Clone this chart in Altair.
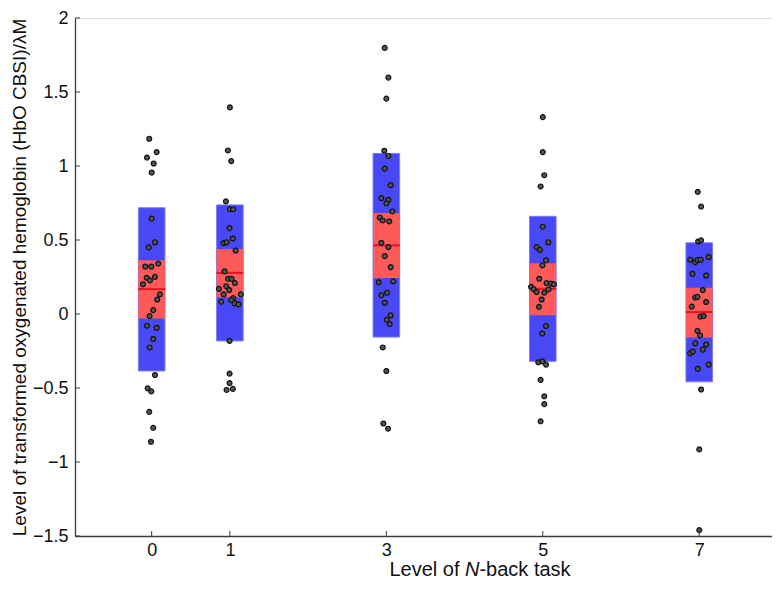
import altair as alt
import pandas as pd

# ---- data ----
levels = [0, 1, 3, 5, 7]
blue_top = [0.718, 0.737, 1.085, 0.660, 0.481]
red_top = [0.364, 0.439, 0.682, 0.343, 0.177]
means = [0.168, 0.278, 0.464, 0.170, 0.013]
red_bottom = [-0.031, 0.113, 0.243, -0.009, -0.158]
blue_bottom = [-0.385, -0.182, -0.156, -0.320, -0.458]

vals_0 = [1.184, 1.094, 1.057, 1.017, 0.956, 0.645, 0.485, 0.450, 0.321, 0.321,
          0.341, 0.245, 0.251, 0.227, 0.201, 0.133, 0.098, 0.026, -0.014, -0.079,
          -0.093, -0.169, -0.226, -0.412, -0.502, -0.523, -0.661, -0.769, -0.863]
jit_0 = [-0.031, 0.064, -0.060, 0.026, 0.0, 0.0, 0.042, -0.038, -0.082, -0.005,
         0.084, -0.064, 0.042, -0.022, -0.111, 0.106, 0.071, 0.020, -0.026, -0.060,
         0.064, 0.020, -0.026, 0.042, -0.051, -0.005, -0.031, 0.020, -0.009]

vals_1 = [1.396, 1.105, 1.033, 0.761, 0.708, 0.708, 0.580, 0.510, 0.479, 0.485,
          0.429, 0.288, 0.238, 0.238, 0.209, 0.188, 0.170, 0.162, 0.133, 0.133,
          0.107, 0.094, 0.083, 0.072, 0.065, -0.182, -0.403, -0.467, -0.513, -0.506]
jit_1 = [0.0, -0.026, 0.017, -0.051, 0.0, 0.042, -0.004, 0.038, -0.080, -0.042,
         0.073, -0.068, -0.022, 0.022, 0.064, -0.047, -0.140, -0.009, -0.080, 0.140,
         0.042, 0.017, -0.111, 0.060, 0.111, -0.004, -0.004, -0.004, -0.042, 0.038]

vals_3 = [1.798, 1.597, 1.455, 1.103, 1.068, 0.982, 0.871, 0.783, 0.772, 0.748,
          0.693, 0.652, 0.632, 0.626, 0.481, 0.452, 0.391, 0.317, 0.214, 0.221,
          0.144, 0.127, 0.076, -0.009, -0.040, -0.068, -0.226, -0.385, -0.740, -0.775]
jit_3 = [-0.020, 0.026, 0.0, -0.026, 0.026, -0.020, 0.056, -0.064, 0.026, 0.0,
         0.077, -0.084, -0.046, 0.038, -0.064, 0.026, -0.020, 0.056, -0.097, 0.089,
         0.009, -0.064, -0.020, 0.056, 0.005, 0.043, -0.046, 0.0, -0.038, 0.022]

vals_5 = [1.330, 1.094, 0.938, 0.862, 0.590, 0.485, 0.452, 0.433, 0.363, 0.328,
          0.238, 0.209, 0.205, 0.201, 0.183, 0.168, 0.166, 0.148, 0.144, 0.098,
          0.048, -0.081, -0.132, -0.326, -0.320, -0.342, -0.445, -0.556, -0.609, -0.725]
jit_5 = [0.0, 0.0, 0.019, -0.028, 0.0, 0.070, -0.079, -0.036, 0.041, -0.006,
         -0.045, 0.048, 0.105, 0.143, -0.150, -0.117, 0.074, -0.079, 0.019, -0.015,
         -0.048, 0.041, -0.006, -0.057, -0.006, 0.041, -0.028, 0.019, 0.019, -0.028]

vals_7 = [0.825, 0.726, 0.490, 0.498, 0.367, 0.350, 0.365, 0.367, 0.385, 0.271,
          0.260, 0.162, 0.111, 0.116, 0.081, 0.050, -0.018, -0.014, -0.114, -0.145,
          -0.198, -0.206, -0.241, -0.265, -0.254, -0.370, -0.342, -0.510, -0.915, -1.460]
jit_7 = [-0.019, 0.024, -0.014, 0.024, -0.116, -0.052, -0.023, 0.019, 0.121, -0.087,
         0.088, 0.045, -0.052, -0.023, 0.088, -0.096, 0.015, 0.057, -0.023, 0.011,
         -0.052, 0.088, 0.045, -0.116, -0.083, -0.019, 0.121, 0.024, 0.0, 0.0]

x_ticks = [0, 1, 3, 5, 7]
y_ticks = [-1.5, -1, -0.5, 0, 0.5, 1, 1.5, 2]

y_title = "Level of transformed oxygenated hemoglobin (HbO CBSI)/λM"
x_title_parts = ["Level of", "N", "-back task"]

# ---- tables ----
half_w = 0.17
boxes = pd.DataFrame({
    "level": levels,
    "x1": [l - half_w for l in levels],
    "x2": [l + half_w for l in levels],
    "blue_top": blue_top, "red_top": red_top, "mean": means,
    "red_bottom": red_bottom, "blue_bottom": blue_bottom,
})

groups = [(0, vals_0, jit_0), (1, vals_1, jit_1), (3, vals_3, jit_3),
          (5, vals_5, jit_5), (7, vals_7, jit_7)]
rows = []
for lvl, vals, jit in groups:
    for v, j in zip(vals, jit):
        rows.append({"level": lvl, "xj": lvl + j, "value": v})
points = pd.DataFrame(rows)

W, H = 697, 518
xs = alt.Scale(domain=[-0.98, 7.93], nice=False, zero=False)
ys = alt.Scale(domain=[-1.5, 2], nice=False, zero=False)
FONT = "Liberation Sans"
AX = "#3c3c3c"

x_axis = alt.Axis(values=x_ticks, format="d", title=None, grid=False, ticks=False,
                  domainColor=AX, domainWidth=1.3, labelFontSize=18, labelPadding=5,
                  labelColor="#111", labelFont=FONT)
y_axis = alt.Axis(values=y_ticks, format="~f", title=y_title, grid=False, ticks=False,
                  domainColor=AX, domainWidth=1.3, labelFontSize=18, labelPadding=7,
                  labelColor="#111", labelFont=FONT, titleFont=FONT, titleFontSize=19,
                  titleFontWeight="normal", titleColor="#111", titlePadding=3)

blue = alt.Chart(boxes).mark_rect(fill="#4848F4", stroke="#7C7CF8", strokeWidth=1).encode(
    x=alt.X("x1:Q", scale=xs, axis=x_axis),
    x2="x2:Q",
    y=alt.Y("blue_bottom:Q", scale=ys, axis=y_axis),
    y2="blue_top:Q",
)
red = alt.Chart(boxes).mark_rect(fill="#FF5A5A").encode(
    x=alt.X("x1:Q", scale=xs, axis=x_axis), x2="x2:Q",
    y=alt.Y("red_bottom:Q", scale=ys, axis=y_axis), y2="red_top:Q",
)
mean_line = alt.Chart(boxes).mark_rule(color="#E4141E", strokeWidth=2).encode(
    x=alt.X("x1:Q", scale=xs, axis=x_axis), x2="x2:Q",
    y=alt.Y("mean:Q", scale=ys, axis=y_axis),
)
pts = alt.Chart(points).mark_circle(size=24, color="#555555", stroke="#111111",
                                    strokeWidth=1.2, opacity=1).encode(
    x=alt.X("xj:Q", scale=xs, axis=x_axis),
    y=alt.Y("value:Q", scale=ys, axis=y_axis),
)

xt = alt.Chart(pd.DataFrame({"v": x_ticks})).mark_rule(color=AX, strokeWidth=1).encode(
    x=alt.X("v:Q", scale=xs, axis=x_axis), y=alt.value(H), y2=alt.value(H - 5))
yt = alt.Chart(pd.DataFrame({"v": y_ticks})).mark_rule(color=AX, strokeWidth=1).encode(
    y=alt.Y("v:Q", scale=ys, axis=y_axis), x=alt.value(0), x2=alt.value(5))

# x title with italic N (layout from Arial/Liberation em widths)
FS = 20
TX = 405                      # centre of the title, plot pixels
w_left, w_sp, w_n, w_right = 3.502 * FS, 0.278 * FS, 0.722 * FS, 4.557 * FS
total = w_left + w_sp + w_n + w_right
x0 = TX - total / 2
TY = H + 40
t1 = alt.Chart(pd.DataFrame({"t": [x_title_parts[0]]})).mark_text(
    align="left", baseline="alphabetic", fontSize=FS, font=FONT, color="#111").encode(
    text="t:N", x=alt.value(x0), y=alt.value(TY))
t2 = alt.Chart(pd.DataFrame({"t": [x_title_parts[1]]})).mark_text(
    align="left", baseline="alphabetic", fontSize=FS, font=FONT, fontStyle="italic",
    color="#111").encode(text="t:N", x=alt.value(x0 + w_left + w_sp), y=alt.value(TY))
t3 = alt.Chart(pd.DataFrame({"t": [x_title_parts[2]]})).mark_text(
    align="left", baseline="alphabetic", fontSize=FS, font=FONT, color="#111").encode(
    text="t:N", x=alt.value(x0 + w_left + w_sp + w_n), y=alt.value(TY))

chart = alt.layer(blue, red, mean_line, pts, xt, yt, t1, t2, t3).properties(
    width=W, height=H,
    autosize=alt.AutoSizeParams(type="none"),
    padding={"left": 67, "top": 10, "right": 0, "bottom": 48},
).configure_view(stroke=None).configure(font=FONT)

chart.save("out.html", embed_options={"renderer": "svg", "actions": False})
